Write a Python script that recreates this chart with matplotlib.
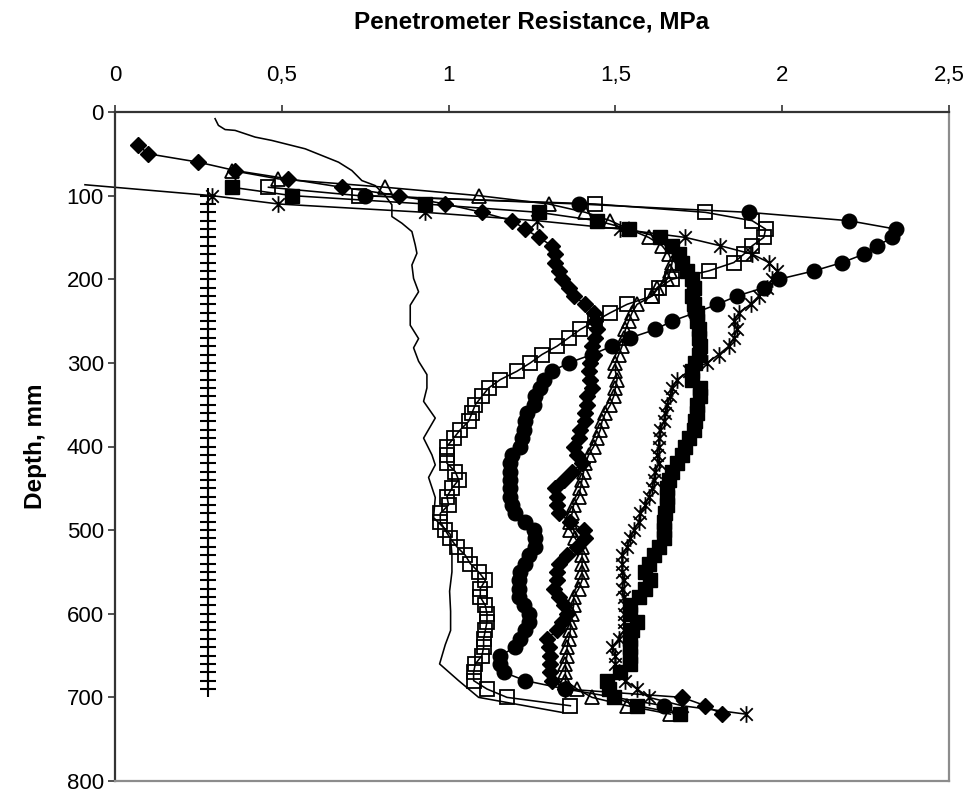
import matplotlib
matplotlib.use("Agg")
import matplotlib.pyplot as plt
from matplotlib.path import Path
from matplotlib.ticker import FuncFormatter

plt.rcParams['font.family'] = ['Liberation Sans', 'DejaVu Sans']

# ---------------- data: depth (mm) and penetrometer resistance (MPa) ----------------
diamond_depth = [40, 50, 60, 70, 80, 90, 100, 110, 120, 130, 140, 150, 160, 170, 180, 190,
                 200, 210, 220, 230, 240, 250, 260, 270, 280, 290, 300, 310, 320, 330, 340,
                 350, 360, 370, 380, 390, 400, 410, 420, 430, 440, 450, 460, 470, 480, 490,
                 500, 510, 520, 530, 540, 550, 560, 570, 580, 590, 600, 610, 620, 630, 640,
                 650, 660, 670, 680, 690, 700, 710, 720]
diamond_mpa = [0.07, 0.10, 0.25, 0.36, 0.52, 0.68, 0.85, 0.99, 1.10, 1.19, 1.23, 1.27, 1.31,
               1.32, 1.32, 1.33, 1.34, 1.36, 1.375, 1.41, 1.435, 1.44, 1.445, 1.44, 1.43,
               1.435, 1.425, 1.42, 1.425, 1.43, 1.415, 1.415, 1.41, 1.41, 1.395, 1.39, 1.375,
               1.385, 1.40, 1.37, 1.345, 1.32, 1.325, 1.325, 1.33, 1.365, 1.405, 1.41, 1.385,
               1.355, 1.33, 1.325, 1.325, 1.315, 1.33, 1.345, 1.355, 1.34, 1.325, 1.295, 1.30,
               1.305, 1.305, 1.305, 1.31, 1.35, 1.70, 1.77, 1.82]

fsquare_depth = [90, 100, 110, 120, 130, 140, 150, 160, 170, 180, 190, 200, 210, 220, 230,
                 240, 250, 260, 270, 280, 290, 300, 310, 320, 330, 340, 350, 360, 370, 380,
                 390, 400, 410, 420, 430, 440, 450, 460, 470, 480, 490, 500, 510, 520, 530,
                 540, 550, 560, 570, 580, 590, 600, 610, 620, 630, 640, 650, 660, 670, 680,
                 690, 700, 710, 720]
fsquare_mpa = [0.35, 0.53, 0.93, 1.27, 1.445, 1.54, 1.635, 1.67, 1.69, 1.70, 1.715, 1.73,
               1.735, 1.73, 1.735, 1.745, 1.745, 1.75, 1.75, 1.755, 1.75, 1.74, 1.73, 1.73,
               1.755, 1.755, 1.745, 1.745, 1.74, 1.735, 1.72, 1.71, 1.70, 1.685, 1.67, 1.66,
               1.655, 1.655, 1.655, 1.65, 1.645, 1.645, 1.645, 1.63, 1.615, 1.60, 1.59, 1.605,
               1.59, 1.57, 1.545, 1.545, 1.565, 1.55, 1.545, 1.545, 1.545, 1.545, 1.515, 1.475,
               1.48, 1.495, 1.565, 1.695]

triangle_depth = [70, 80, 90, 100, 110, 120, 130, 140, 150, 160, 170, 180, 190, 200, 210,
                  220, 230, 240, 250, 260, 270, 280, 290, 300, 310, 320, 330, 340, 350, 360,
                  370, 380, 390, 400, 410, 420, 430, 440, 450, 460, 470, 480, 490, 500, 510,
                  520, 530, 540, 550, 560, 570, 580, 590, 600, 610, 620, 630, 640, 650, 660,
                  670, 680, 690, 700, 710, 720]
triangle_mpa = [0.35, 0.49, 0.81, 1.09, 1.30, 1.41, 1.485, 1.54, 1.60, 1.64, 1.66, 1.67,
                1.665, 1.655, 1.625, 1.61, 1.565, 1.55, 1.54, 1.53, 1.525, 1.52, 1.51, 1.50,
                1.50, 1.505, 1.50, 1.495, 1.485, 1.47, 1.46, 1.455, 1.445, 1.435, 1.42, 1.41,
                1.405, 1.40, 1.395, 1.39, 1.375, 1.37, 1.365, 1.365, 1.38, 1.40, 1.40, 1.40,
                1.40, 1.40, 1.39, 1.375, 1.375, 1.37, 1.365, 1.365, 1.36, 1.355, 1.355, 1.35,
                1.35, 1.35, 1.385, 1.43, 1.535, 1.665]

osquare_depth = [90, 100, 110, 120, 130, 140, 150, 160, 170, 180, 190, 200, 210, 220, 230,
                 240, 250, 260, 270, 280, 290, 300, 310, 320, 330, 340, 350, 360, 370, 380,
                 390, 400, 410, 420, 430, 440, 450, 460, 470, 480, 490, 500, 510, 520, 530,
                 540, 550, 560, 570, 580, 590, 600, 610, 620, 630, 640, 650, 660, 670, 680,
                 690, 700, 710]
osquare_mpa = [0.46, 0.73, 1.44, 1.77, 1.91, 1.95, 1.945, 1.91, 1.885, 1.855, 1.78, 1.67,
               1.63, 1.61, 1.535, 1.485, 1.44, 1.395, 1.36, 1.325, 1.28, 1.245, 1.205, 1.155,
               1.12, 1.10, 1.08, 1.07, 1.06, 1.035, 1.015, 0.995, 0.995, 0.995, 1.02, 1.03,
               1.01, 0.995, 1.00, 0.975, 0.975, 0.99, 1.005, 1.025, 1.05, 1.065, 1.09, 1.11,
               1.095, 1.095, 1.11, 1.115, 1.115, 1.11, 1.105, 1.105, 1.10, 1.08, 1.075, 1.075,
               1.115, 1.175, 1.365]

circle_depth = [100, 110, 120, 130, 140, 150, 160, 170, 180, 190, 200, 210, 220, 230, 240,
                250, 260, 270, 280, 290, 300, 310, 320, 330, 340, 350, 360, 370, 380, 390,
                400, 410, 420, 430, 440, 450, 460, 470, 480, 490, 500, 510, 520, 530, 540,
                550, 560, 570, 580, 590, 600, 610, 620, 630, 640, 650, 660, 670, 680, 690, 710]
circle_mpa = [0.75, 1.39, 1.90, 2.20, 2.34, 2.33, 2.285, 2.245, 2.18, 2.095, 1.99, 1.945,
              1.865, 1.805, 1.74, 1.67, 1.62, 1.545, 1.49, 1.43, 1.36, 1.31, 1.285, 1.275,
              1.26, 1.255, 1.235, 1.23, 1.225, 1.22, 1.215, 1.19, 1.185, 1.185, 1.185, 1.185,
              1.185, 1.19, 1.20, 1.23, 1.255, 1.26, 1.26, 1.24, 1.23, 1.215, 1.21, 1.21, 1.21,
              1.225, 1.24, 1.24, 1.23, 1.215, 1.20, 1.155, 1.155, 1.165, 1.23, 1.35, 1.645]

star_depth = [87, 100, 110, 120, 130, 140, 150, 160, 170, 180, 190, 200, 210, 220, 230, 240,
              250, 260, 270, 280, 290, 300, 310, 320, 330, 340, 350, 360, 370, 380, 390, 400,
              410, 420, 430, 440, 450, 460, 470, 480, 490, 500, 510, 520, 530, 540, 550, 560,
              570, 580, 590, 600, 610, 620, 630, 640, 650, 660, 670, 680, 690, 700, 710, 720]
star_mpa = [-0.09, 0.29, 0.49, 0.93, 1.265, 1.515, 1.71, 1.815, 1.91, 1.96, 1.985, 1.97,
            1.955, 1.93, 1.905, 1.87, 1.855, 1.865, 1.855, 1.84, 1.81, 1.775, 1.72, 1.685,
            1.67, 1.665, 1.655, 1.65, 1.645, 1.635, 1.63, 1.63, 1.625, 1.63, 1.62, 1.615,
            1.61, 1.60, 1.59, 1.575, 1.57, 1.555, 1.545, 1.535, 1.52, 1.52, 1.52, 1.525, 1.52,
            1.525, 1.53, 1.525, 1.525, 1.525, 1.51, 1.49, 1.50, 1.50, 1.51, 1.53, 1.565, 1.60,
            1.70, 1.89]

plus_depth = [100, 110, 120, 130, 140, 150, 160, 170, 180, 190, 200, 210, 220, 230, 240, 250,
              260, 270, 280, 290, 300, 310, 320, 330, 340, 350, 360, 370, 380, 390, 400, 410,
              420, 430, 440, 450, 460, 470, 480, 490, 500, 510, 520, 530, 540, 550, 560, 570,
              580, 590, 600, 610, 620, 630, 640, 650, 660, 670, 680, 690]
plus_mpa = [0.28, 0.28, 0.28, 0.28, 0.28, 0.28, 0.28, 0.28, 0.28, 0.28, 0.28, 0.28, 0.28,
            0.28, 0.28, 0.28, 0.28, 0.28, 0.28, 0.28, 0.28, 0.28, 0.28, 0.28, 0.28, 0.28,
            0.28, 0.28, 0.28, 0.28, 0.28, 0.28, 0.28, 0.28, 0.28, 0.28, 0.28, 0.28, 0.28,
            0.28, 0.28, 0.28, 0.28, 0.28, 0.28, 0.28, 0.28, 0.28, 0.28, 0.28, 0.28, 0.28,
            0.28, 0.28, 0.28, 0.28, 0.28, 0.28, 0.28, 0.28]

plain_depth = [8, 16, 21, 22, 30, 34, 40, 44, 52, 60, 70, 82, 88, 100, 111, 125, 133, 143,
               159, 169, 183, 199, 215, 231, 255, 271, 282, 298, 314, 330, 346, 366, 390, 410,
               422, 437, 461, 485, 505, 529, 550, 573, 597, 620, 637, 660, 680, 700, 718]
plain_mpa = [0.30, 0.31, 0.33, 0.36, 0.42, 0.47, 0.53, 0.57, 0.62, 0.67, 0.71, 0.74, 0.78,
             0.81, 0.83, 0.83, 0.86, 0.89, 0.90, 0.905, 0.89, 0.895, 0.91, 0.885, 0.885, 0.91,
             0.895, 0.91, 0.935, 0.935, 0.925, 0.96, 0.925, 0.95, 0.96, 0.94, 0.96, 0.955,
             1.005, 1.01, 1.01, 1.003, 1.006, 1.006, 0.99, 0.973, 1.03, 1.09, 1.34]

x_ticks = [0, 0.5, 1, 1.5, 2, 2.5]
y_ticks = [0, 100, 200, 300, 400, 500, 600, 700, 800]

# ---------------- figure ----------------
W, H = 968, 795
fig = plt.figure(figsize=(W / 100, H / 100), dpi=100)
left, right, top, bottom = 115, 949, 112, 781
ax = fig.add_axes([left / W, 1 - bottom / H, (right - left) / W, (bottom - top) / H])

# Excel-style star: vertical bar plus an X
star = Path([(0, -1), (0, 1), (-0.75, -0.75), (0.75, 0.75), (-0.75, 0.75), (0.75, -0.75)],
            [Path.MOVETO, Path.LINETO, Path.MOVETO, Path.LINETO, Path.MOVETO, Path.LINETO])

lw = 1.15
k = 'black'
ax.plot(plus_mpa, plus_depth, color=k, lw=1.4, marker='+', ms=11.5, mew=1.5)
ax.plot(plain_mpa, plain_depth, color=k, lw=lw)
ax.plot(diamond_mpa, diamond_depth, color=k, lw=lw, marker='D', ms=8.3, mfc=k, mec=k)
ax.plot(fsquare_mpa, fsquare_depth, color=k, lw=lw, marker='s', ms=9.8, mfc=k, mec=k)
ax.plot(triangle_mpa, triangle_depth, color=k, lw=lw, marker='^', ms=10.5, mfc='none',
        mec=k, mew=1.3)
ax.plot(osquare_mpa, osquare_depth, color=k, lw=lw, marker='s', ms=9.5, mfc='none', mec=k,
        mew=1.3)
ax.plot(circle_mpa, circle_depth, color=k, lw=lw, marker='o', ms=10.5, mfc=k, mec=k)
ax.plot(star_mpa, star_depth, color=k, lw=lw, marker=star, ms=12, mew=1.3,
        markevery=list(range(1, len(star_mpa))), clip_on=False)

# ---------------- axes styling ----------------
ax.set_xlim(0, 2.5)
ax.set_ylim(800, 0)
ax.xaxis.tick_top()
ax.xaxis.set_label_position('top')
ax.set_xticks(x_ticks)
ax.set_yticks(y_ticks)
ax.xaxis.set_major_formatter(FuncFormatter(lambda v, p: ('%g' % v).replace('.', ',')))
ax.tick_params(axis='both', direction='out', length=5, width=1.2, colors='#333333',
               labelcolor='black', labelsize=16)
ax.tick_params(axis='x', pad=14)
ax.tick_params(axis='y', pad=3)

for side in ('top', 'left'):
    ax.spines[side].set_color('#333333')
    ax.spines[side].set_linewidth(1.6)
for side in ('bottom', 'right'):
    ax.spines[side].set_color('#8c8c8c')
    ax.spines[side].set_linewidth(1.6)

ax.set_xlabel('Penetrometer Resistance, MPa', fontsize=17.5, fontweight='bold', labelpad=26)
ax.set_ylabel('Depth, mm', fontsize=17.5, fontweight='bold', labelpad=14)

fig.savefig('out.png', dpi=100)
